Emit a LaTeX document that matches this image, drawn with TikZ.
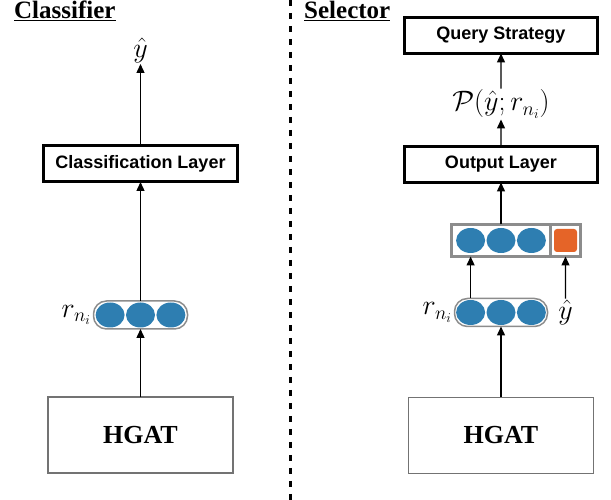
\documentclass[tikz,border=0pt]{standalone}
\usepackage[no-math]{fontspec}
\setmainfont{Liberation Serif}
\newfontfamily\boxfont{Liberation Sans}
\usetikzlibrary{positioning, arrows.meta, shapes.geometric}

\definecolor{cellblue}{RGB}{46,126,177}
\definecolor{cellorange}{RGB}{229,100,40}
\definecolor{vecgray}{RGB}{140,140,140}

\begin{document}
\begin{tikzpicture}
    [
      x=1pt, y=1pt,
      LAYER/.style={rectangle, draw=black, line width=3pt, minimum width=193pt, minimum height=36pt, outer sep=0pt, font=\boxfont\bfseries\fontsize{18}{20}\selectfont},
      ENCODER/.style={rectangle, draw=black!55, line width=1.2pt, minimum width=185pt, minimum height=76pt, outer sep=0pt, font=\bfseries\fontsize{26}{28}\selectfont},
      VECTOR/.style={rectangle, rounded corners=13pt, draw=vecgray, line width=1.5pt, fill=white, minimum width=94pt, minimum height=28pt, outer sep=0pt},
      CONCAT/.style={rectangle, draw=vecgray, line width=3pt, fill=white, minimum height=32pt, outer sep=0pt},
      CELL/.style={ellipse, fill=cellblue, minimum width=29pt, minimum height=25pt, inner sep=0pt},
      EXTRA/.style={rectangle, rounded corners=3pt, fill=cellorange, minimum width=23pt, minimum height=23pt, inner sep=0pt},
      MATH/.style={inner sep=1pt, font=\fontsize{25}{28}\selectfont, scale=1.13, transform shape},
      TITLE/.style={anchor=base west, inner sep=0pt, font=\bfseries\fontsize{25}{28}\selectfont},
      ARROW/.style={-{Triangle[length=9pt, width=8pt]}, line width=1.4pt},
      DIVIDER/.style={line width=3pt, dash pattern=on 6pt off 7pt},
    ]

    \useasboundingbox (0,0) rectangle (611,500);

    % classifier side
    \node[TITLE] (titleLeft) at (14,481) {\underline{Classifier}};
    \node[ENCODER] (hgatL) at (140.5,65) {HGAT};
    \node[VECTOR] (vecL) [above = 68pt of hgatL] {};
    \node[CELL] (rL2) at (vecL) {};
    \node[CELL] (rL1) [left = 1pt of rL2] {};
    \node[CELL] (rL3) [right = 1pt of rL2] {};
    \node[MATH] (rLabelL) [left = 1pt of vecL] {$r_{n_i}$};
    \node[LAYER, minimum width=194pt] (classLayer) [above = 119pt of vecL] {Classification Layer};
    \node[MATH] (yL) [above = 82pt of classLayer] {$\hat{y}$};

    \draw[ARROW] (hgatL) -- (vecL);
    \draw[ARROW] (vecL) -- (classLayer);
    \draw[ARROW] (classLayer) -- (yL);

    % divider
    \coordinate (divTop) at (290,500);
    \coordinate (divBottom) at (290,0);
    \draw[DIVIDER] (divTop) -- (divBottom);

    % selector side
    \node[TITLE] (titleRight) at (304,481) {\underline{Selector}};
    \node[ENCODER] (hgatR) at (501,64.5) {HGAT};
    \node[VECTOR, minimum width=93pt] (vecR) [above = 71pt of hgatR] {};
    \node[CELL] (rR2) at (vecR) {};
    \node[CELL] (rR1) [left = 1pt of rR2] {};
    \node[CELL] (rR3) [right = 1pt of rR2] {};
    \node[MATH] (rLabelR) [left = 1pt of vecR] {$r_{n_i}$};

    \node[CONCAT, minimum width=99pt] (concatA) [above = 42pt of vecR] {};
    \node[CONCAT, minimum width=30pt] (concatB) [right = 0pt of concatA] {};
    \node[CELL] (cR2) at (concatA) {};
    \node[CELL] (cR1) [left = 1pt of cR2] {};
    \node[CELL] (cR3) [right = 1pt of cR2] {};
    \node[EXTRA] (cExtra) at (concatB) {};
    \node[MATH] (yR) at (concatB |- vecR) {$\hat{y}$};

    \node[LAYER] (outLayer) [above = 42pt of concatA] {Output Layer};
    \node[MATH] (prob) [above = 27pt of outLayer] {$\mathcal{P}(\hat{y};r_{n_i})$};
    \node[LAYER] (query) [above = 93pt of outLayer] {Query Strategy};

    \draw[ARROW] (hgatR) -- (vecR);
    \draw[ARROW] (rR1.north |- vecR.north) -- (rR1.north |- concatA.south);
    \draw[ARROW] (yR) -- (concatB);
    \draw[ARROW] (concatA) -- (outLayer);
    \draw[ARROW] (outLayer) -- (prob);
    \draw[ARROW] (prob) -- (query);

\end{tikzpicture}
\end{document}
